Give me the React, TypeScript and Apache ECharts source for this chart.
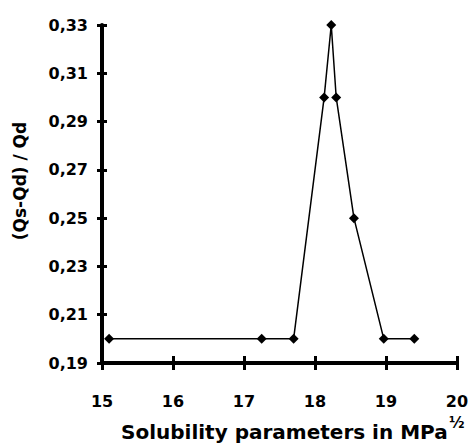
import React, { useEffect, useRef } from "react";
import * as echarts from "echarts";

const xValues = [15.1, 17.25, 17.7, 18.13, 18.23, 18.3, 18.55, 18.97, 19.4];
const yValues = [0.2, 0.2, 0.2, 0.3, 0.33, 0.3, 0.25, 0.2, 0.2];
const X_MIN = 15;
const X_MAX = 20;
const Y_BASE = 0.19;
const Y_MAX = 0.33;
const Y_STEP = 0.02;
const yTitle = "(Qs-Qd) / Qd";
const xTitle = "Solubility parameters in MPa";
const xTitleSup = "½";

const FONT = "DejaVu Sans";

export default function App() {
  const ref = useRef<HTMLDivElement>(null);
  useEffect(() => {
    if (!ref.current) return;
    const chart = echarts.init(ref.current, null, { renderer: "svg" });
    const axisLine = { show: true, lineStyle: { color: "#000", width: 4 } };
    const tickStyle = { color: "#000", width: 3 };
    const labelStyle = { color: "#000", fontFamily: FONT, fontWeight: "bold" as const, fontSize: 16 };
    chart.setOption({
      animation: false,
      backgroundColor: "#fff",
      grid: { left: 102, right: 11, top: 25, bottom: 82 },
      xAxis: [
        {
          type: "value", min: X_MIN, max: X_MAX, interval: 1,
          axisLine, axisTick: { show: true, length: 7, inside: false, lineStyle: tickStyle },
          axisLabel: { ...labelStyle, margin: 30 },
          splitLine: { show: false },
        },
        {
          type: "value", min: X_MIN, max: X_MAX, interval: 1, position: "bottom",
          axisLine: { show: false }, axisTick: { show: true, length: 7, inside: true, lineStyle: tickStyle },
          axisLabel: { show: false }, splitLine: { show: false },
        },
      ],
      yAxis: [
        {
          type: "value", min: 0, max: +(Y_MAX - Y_BASE).toFixed(2), interval: Y_STEP,
          axisLine, axisTick: { show: true, length: 5, inside: false, lineStyle: tickStyle },
          axisLabel: {
            ...labelStyle, margin: 14,
            formatter: (v: number) => (v + Y_BASE).toFixed(2).replace(".", ","),
          },
          splitLine: { show: false },
        },
        {
          type: "value", min: 0, max: +(Y_MAX - Y_BASE).toFixed(2), interval: Y_STEP, position: "left",
          axisLine: { show: false }, axisTick: { show: true, length: 5, inside: true, lineStyle: tickStyle },
          axisLabel: { show: false }, splitLine: { show: false },
        },
      ],
      series: [
        {
          type: "line",
          xAxisIndex: 0, yAxisIndex: 0,
          data: xValues.map((x, i) => [x, yValues[i] - Y_BASE]),
          symbol: "diamond", symbolSize: 10,
          lineStyle: { color: "#000", width: 1.5 },
          itemStyle: { color: "#000" },
        },
      ],
      graphic: [
        {
          type: "text", x: 20, y: 181, rotation: Math.PI / 2,
          style: { text: yTitle, fill: "#000", font: `bold 17px "${FONT}"`, textAlign: "center", textVerticalAlign: "middle" },
        },
        {
          type: "text", x: 121, y: 432,
          style: { text: xTitle, fill: "#000", font: `bold 20px "${FONT}"`, textAlign: "left", textVerticalAlign: "middle" },
        },
        {
          type: "text", x: 449, y: 423,
          style: { text: xTitleSup, fill: "#000", font: `bold 15px "${FONT}"`, textAlign: "left", textVerticalAlign: "middle" },
        },
      ],
    });
    return () => chart.dispose();
  }, []);
  return <div ref={ref} style={{ width: 471, height: 445, position: "absolute", left: 0, top: 0 }} />;
}
